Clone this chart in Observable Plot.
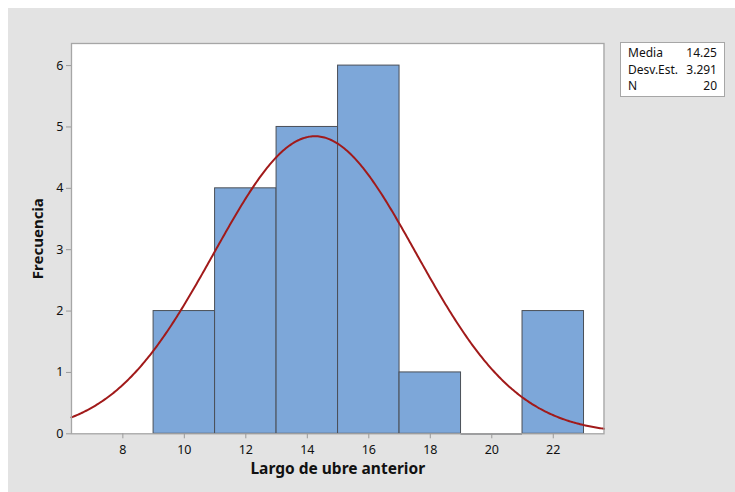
<!DOCTYPE html>
<html>
<head>
<meta charset="utf-8">
<script src="https://cdn.jsdelivr.net/npm/d3@7"></script>
<script src="https://cdn.jsdelivr.net/npm/@observablehq/plot@0.6"></script>
<style>
  html, body { margin: 0; padding: 0; background: #ffffff; }
  #wrap { position: relative; width: 735px; height: 492px; font-family: "Noto Sans", sans-serif; }
  #panel { position: absolute; left: 8px; top: 8px; right: 0; bottom: 0; background: #e3e3e3; }
  #chart { position: absolute; left: 0; top: 0; }
  #stats { position: absolute; left: 620px; top: 42px; width: 105px; height: 55px; background: #fff;
           border: 1px solid #a6a6a6; box-sizing: border-box; font-size: 12px; color: #111; padding: 2px 7px 0 7px; }
  #stats div { display: flex; justify-content: space-between; line-height: 16.5px; }
</style>
</head>
<body>
<div id="wrap">
  <div id="panel"></div>
  <div id="chart"></div>
  <div id="stats"></div>
</div>
<script>
// Histogram bins (lower edge, upper edge) and counts
const binStart = [9, 11, 13, 15, 17, 19, 21];
const binEnd   = [11, 13, 15, 17, 19, 21, 23];
const counts   = [2, 4, 5, 6, 1, 0, 2];

// Summary statistics
const statLabels = ["Media", "Desv.Est.", "N"];
const statValues = ["14.25", "3.291", "20"];
const mean = 14.25, sd = 3.291, n = 20, binWidth = 2;

const xTicks = [8, 10, 12, 14, 16, 18, 20, 22];
const yTicks = [0, 1, 2, 3, 4, 5, 6];
const xDomain = [6.33, 23.65];
const yDomain = [0, 6.36];

const bins = binStart.map((b, i) => ({x1: b, x2: binEnd[i], y: counts[i]}));
const emptyBins = bins.filter(d => d.y === 0);

// Fitted normal curve scaled to frequency: N * width * pdf
const curve = d3.range(0, 401).map(i => {
  const x = xDomain[0] + (xDomain[1] - xDomain[0]) * i / 400;
  const z = (x - mean) / sd;
  return {x, y: n * binWidth * Math.exp(-0.5 * z * z) / (sd * Math.sqrt(2 * Math.PI))};
});

const chart = Plot.plot({
  width: 735,
  height: 492,
  marginLeft: 71,
  marginRight: 131.5,
  marginTop: 43,
  marginBottom: 58.7,
  style: {background: "transparent", fontFamily: "Noto Sans, sans-serif", fontSize: "12px", color: "#111"},
  x: {domain: xDomain},
  y: {domain: yDomain},
  marks: [
    Plot.rect([0], {x1: xDomain[0], x2: xDomain[1], y1: yDomain[0], y2: yDomain[1], fill: "#ffffff"}),
    Plot.rectY(bins.filter(d => d.y > 0), {x1: "x1", x2: "x2", y: "y", fill: "#7da7d9", stroke: "#4a4f57", strokeWidth: 1}),
    // empty bins collapse to an outline along the baseline
    Plot.ruleY(emptyBins, {x1: "x1", x2: "x2", y: "y", stroke: "#4a4f57", strokeWidth: 1.2}),
    Plot.line(curve, {x: "x", y: "y", stroke: "#a11a1a", strokeWidth: 2}),
    Plot.frame({stroke: "#a6a6a6", strokeWidth: 1.3}),
    Plot.axisX({ticks: xTicks, tickSize: 5, tickPadding: 6, stroke: "#9a9a9a", fontSize: 12.5, label: null}),
    Plot.axisY({ticks: yTicks, tickSize: 5, tickPadding: 3, tickFormat: d3.format("d"), stroke: "#9a9a9a", fontSize: 12.5, label: null}),
    Plot.text(["Largo de ubre anterior"], {frameAnchor: "bottom", lineAnchor: "middle", textAnchor: "middle", dy: 35, fontSize: 15.5, fontWeight: "bold", fill: "#111", text: d => d}),
    Plot.text(["Frecuencia"], {frameAnchor: "left", lineAnchor: "middle", textAnchor: "middle", dx: -33, rotate: -90, fontSize: 15, fontWeight: "bold", fill: "#111", text: d => d})
  ]
});
document.getElementById("chart").appendChild(chart);

const stats = document.getElementById("stats");
statLabels.forEach((l, i) => {
  const row = document.createElement("div");
  const a = document.createElement("span"); a.textContent = l;
  const b = document.createElement("span"); b.textContent = statValues[i];
  row.appendChild(a); row.appendChild(b);
  stats.appendChild(row);
});
</script>
</body>
</html>
